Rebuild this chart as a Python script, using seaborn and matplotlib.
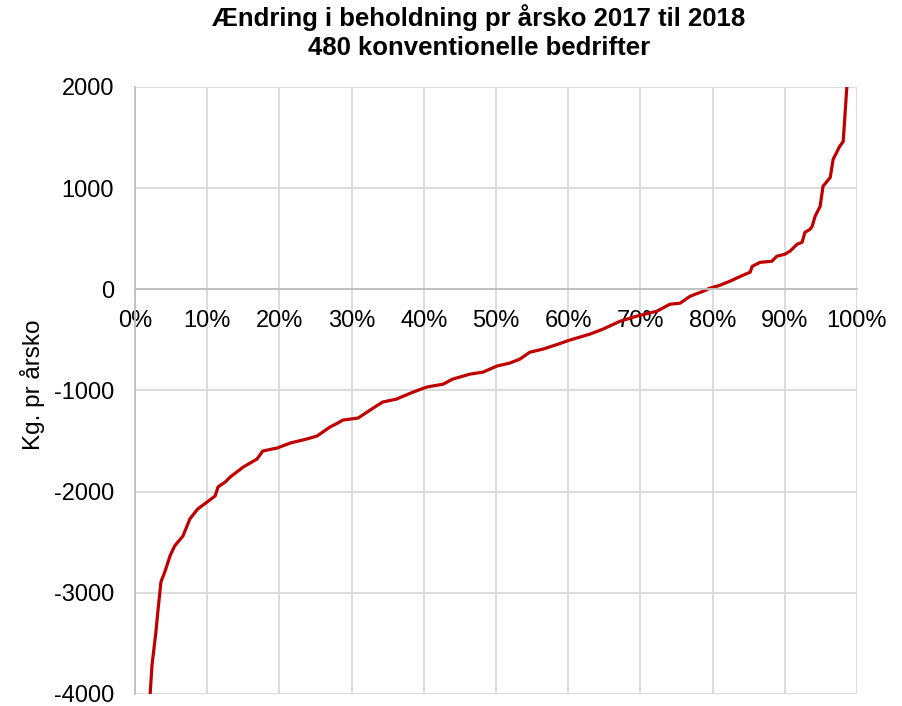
import matplotlib
matplotlib.use("Agg")
import matplotlib.pyplot as plt
import seaborn as sns
import pandas as pd
from matplotlib.ticker import FuncFormatter, MultipleLocator

# Share of farms (percent, sorted) and change in stock per cow (kg)
andel_pct = [1.9, 2.1, 2.35, 2.9, 3.2, 3.6, 4.15, 4.85, 5.5, 6.65, 7.6, 8.7,
             10.0, 11.1, 11.5, 12.5, 13.2, 15.0, 16.9, 17.7, 19.7, 21.5, 23.8,
             25.2, 26.6, 27.0, 28.1, 28.8, 30.9, 33.0, 34.3, 36.2, 38.5, 40.4,
             42.7, 44.0, 46.4, 48.2, 50.1, 51.9, 53.3, 54.7, 56.5, 58.6, 60.2,
             63.0, 64.8, 67.2, 69.5, 72.3, 74.1, 75.5, 76.9, 78.7, 79.6, 80.6,
             81.0, 82.4, 84.2, 85.2, 85.5, 86.6, 88.2, 88.9, 90.0, 90.7, 91.0,
             91.7, 92.4, 92.8, 93.5, 93.8, 94.2, 94.9, 95.3, 96.3, 96.7, 97.6,
             98.1, 98.6, 98.9]
kg_pr_arsko = [-4250, -4000, -3720, -3385, -3160, -2890, -2790, -2635, -2536,
               -2438, -2270, -2171, -2102, -2043, -1954, -1905, -1855, -1757,
               -1678, -1599, -1569, -1520, -1480, -1451, -1382, -1362, -1322,
               -1293, -1273, -1174, -1115, -1086, -1017, -967, -938, -888,
               -839, -819, -760, -730, -691, -622, -592, -543, -503, -444,
               -395, -316, -266, -217, -148, -138, -69, -20, 10, 30, 39, 79,
               138, 168, 227, 266, 276, 326, 345, 375, 395, 444, 464, 563,
               592, 622, 720, 819, 1017, 1105, 1283, 1411, 1461, 2000, 2400]

title = "Ændring i beholdning pr årsko 2017 til 2018\n480 konventionelle bedrifter"
y_label = "Kg. pr årsko"

df = pd.DataFrame({"andel": andel_pct, "kg": kg_pr_arsko})

sns.set_theme(style="white")
plt.rcParams["font.family"] = ["Liberation Sans", "DejaVu Sans"]
plt.rcParams["text.color"] = "black"
plt.rcParams["axes.labelcolor"] = "black"

fig = plt.figure(figsize=(9.03, 7.06), dpi=100)
ax = fig.add_axes([0.1495, 0.0170, 0.7995, 0.8600])

sns.lineplot(data=df, x="andel", y="kg", ax=ax, color="#C00000",
             linewidth=2.3, sort=False, estimator=None)

ax.set_xlim(0, 100)
ax.set_ylim(-4000, 2000)
ax.xaxis.set_major_locator(MultipleLocator(10))
ax.yaxis.set_major_locator(MultipleLocator(1000))
ax.xaxis.set_major_formatter(FuncFormatter(lambda v, p: f"{int(round(v))}%"))
ax.yaxis.set_major_formatter(FuncFormatter(lambda v, p: f"{int(round(v))}"))

ax.grid(True, color="#d9d9d9", linewidth=1.3)
ax.set_axisbelow(True)

for s in ["top", "right"]:
    ax.spines[s].set_visible(False)
ax.spines["bottom"].set_position(("data", 0))
ax.spines["bottom"].set_color("#bfbfbf")
ax.spines["bottom"].set_linewidth(1.3)
ax.spines["left"].set_color("#bfbfbf")
ax.spines["left"].set_linewidth(1.3)

ax.tick_params(axis="both", length=0, labelsize=17, colors="black")
ax.tick_params(axis="x", pad=15)
ax.tick_params(axis="y", pad=15)

ax.set_xlabel("")
ax.set_ylabel(y_label, fontsize=17.5, color="black")
ax.yaxis.set_label_coords(-0.125, 0.51)

fig.text(0.530, 0.994, title, ha="center", va="top", fontsize=18.5,
         fontweight="bold", linespacing=1.25, color="black")

fig.savefig("out.png", dpi=100)
